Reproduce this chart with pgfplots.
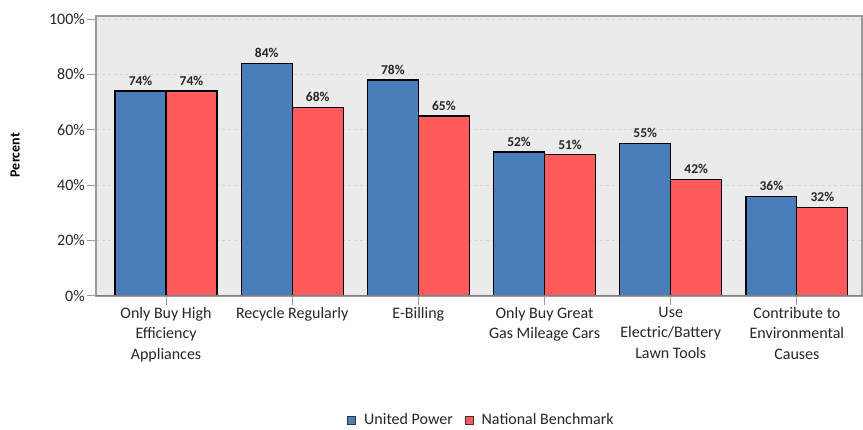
\documentclass[border=0pt]{standalone}
\usepackage{fontspec}
\setmainfont{Carlito}
\usepackage{pgfplots}
\pgfplotsset{compat=1.18}
\definecolor{upblue}{HTML}{4A7EBB}
\definecolor{nbred}{HTML}{FF5B5B}
\definecolor{bggray}{HTML}{EBEBEB}
\definecolor{axgray}{HTML}{9A9A9A}
\definecolor{gridgray}{HTML}{D2D2D2}
\definecolor{botgray}{HTML}{7F7F7F}
\begin{document}
\begin{tikzpicture}
\path[use as bounding box] (-96pt,-134pt) rectangle (767pt,296pt);
\begin{axis}[
  scale only axis, width=766pt, height=280pt,
  xmin=-0.555, xmax=5.516, ymin=0, ymax=101.1,
  axis background/.style={fill=bggray},
  ybar=0pt, bar width=0.404,
  xtick={0,1,2,3,4,5},
  xticklabels={{Only Buy High\\Efficiency\\Appliances},{Recycle Regularly},{E-Billing},{Only Buy Great\\Gas Mileage Cars},{Use\\Electric/Battery\\Lawn Tools},{Contribute to\\Environmental\\Causes}},
  xticklabel style={align=center, font=\fontsize{16}{20.5}\selectfont, text=black!85, inner sep=2pt},
  ytick={0,20,40,60,80,100},
  yticklabel={\pgfmathprintnumber{\tick}\%},
  yticklabel style={font=\fontsize{16}{18}\selectfont, text=black!85, inner sep=2pt},
  /pgf/number format/assume math mode=true,
  ymajorgrids, grid style={gridgray, dashed, line width=1pt},
  axis line style={axgray, line width=1.5pt},
  tick style={axgray, line width=1pt},
  tick align=outside, major tick length=9pt,
  xtick pos=lower, ytick pos=left,
  ylabel={Percent},
  ylabel style={font=\fontsize{14}{16}\selectfont\bfseries, at={(axis description cs:-0.1057,0.503)}, anchor=center},
  nodes near coords={\pgfmathprintnumber{\pgfplotspointmeta}\%},
  every node near coord/.append style={font=\fontsize{13.5}{15}\selectfont\bfseries, text=black!85, inner sep=5pt},
  legend columns=2,
  legend style={draw=none, fill=none, at={(axis description cs:0.504,-0.443)}, anchor=center,
    font=\fontsize{16}{18}\selectfont, text=black!85,
    /tikz/every odd column/.append style={column sep=5pt},
    /tikz/every even column/.append style={column sep=9pt},
    nodes={inner sep=3pt}},
  legend image code/.code={\draw[#1, draw=black!80, line width=0.8pt] (0pt,-4pt) rectangle (8pt,4pt);},
]
\addplot[fill=upblue, draw=black, line width=1.2pt] coordinates {(0,74) (1,84) (2,78) (3,52) (4,55) (5,36)};
\addplot[fill=nbred, draw=black, line width=1.2pt] coordinates {(0,74) (1,68) (2,65) (3,51) (4,42) (5,32)};
\legend{United Power, National Benchmark}
\draw[botgray, line width=2pt] (rel axis cs:0,0) -- (rel axis cs:1,0);
\end{axis}
\end{tikzpicture}
\end{document}
